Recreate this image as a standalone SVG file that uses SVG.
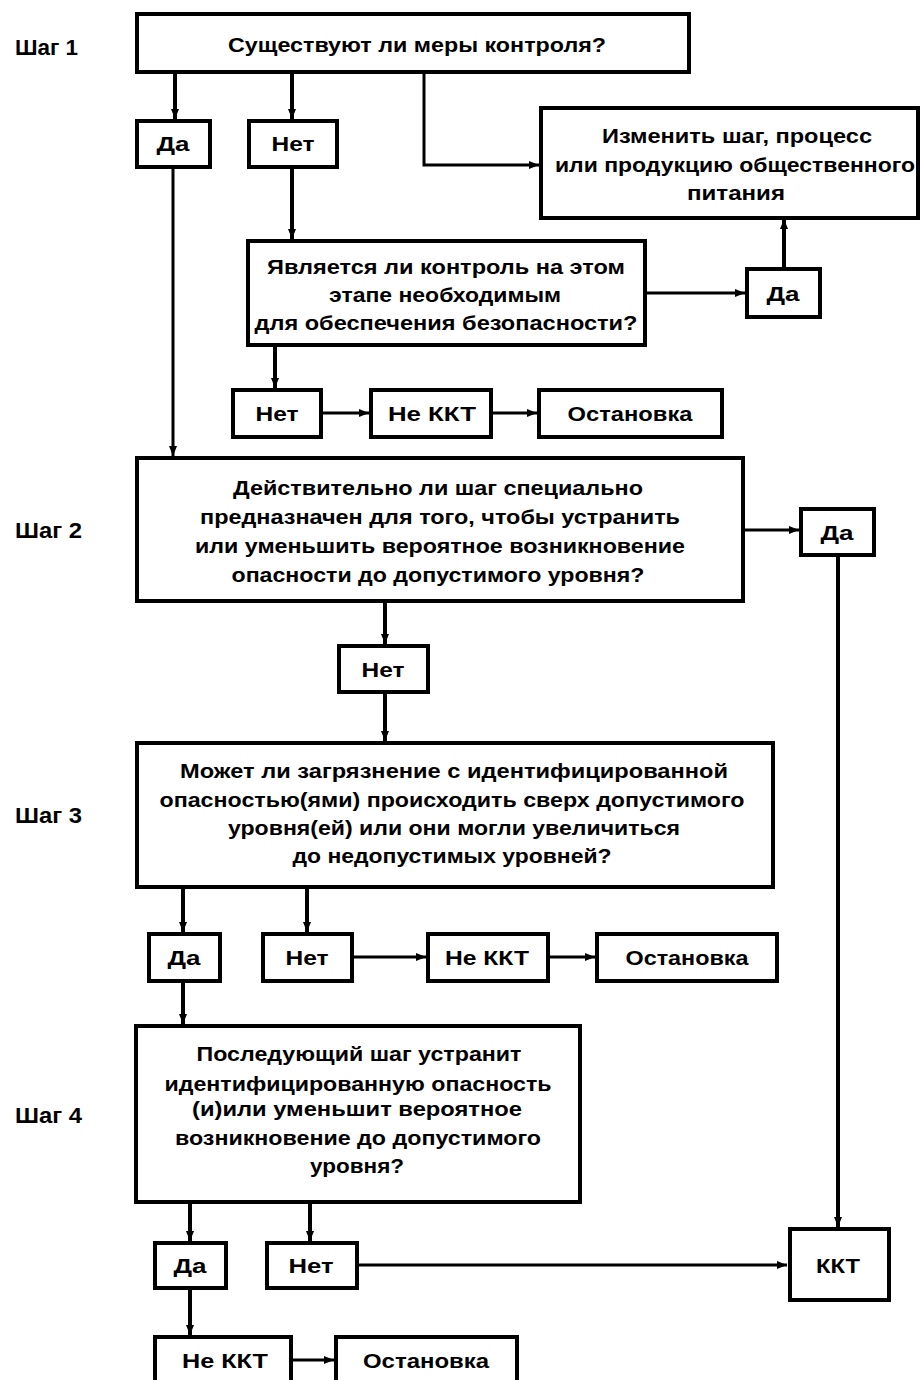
<svg xmlns="http://www.w3.org/2000/svg" width="920" height="1380" viewBox="0 0 920 1380">
<defs>
<marker id="ah" markerWidth="10" markerHeight="8" refX="10" refY="4" orient="auto" markerUnits="userSpaceOnUse">
<path d="M0,0 L10,4 L0,8 Z" fill="#000"/>
</marker>
<style>
.box{fill:#fff;stroke:#000;stroke-width:4}
.t{font-family:"Liberation Sans",Arial,sans-serif;font-weight:bold;font-size:21px;fill:#000;text-anchor:middle}
.lbl{font-family:"Liberation Sans",Arial,sans-serif;font-weight:bold;font-size:22px;fill:#000}
.c{fill:none;stroke:#000;stroke-width:3;marker-end:url(#ah)}
.ct{fill:none;stroke:#000;stroke-width:4;marker-end:url(#ah)}
</style>
</defs>
<rect width="920" height="1380" fill="#fff"/>
<g id="steps">
<text class="lbl" x="15" y="55" textLength="63" lengthAdjust="spacingAndGlyphs">Шаг 1</text>
<text class="lbl" x="15" y="538" textLength="67" lengthAdjust="spacingAndGlyphs">Шаг 2</text>
<text class="lbl" x="15" y="823" textLength="67" lengthAdjust="spacingAndGlyphs">Шаг 3</text>
<text class="lbl" x="15" y="1123" textLength="67" lengthAdjust="spacingAndGlyphs">Шаг 4</text>
</g>
<g id="connectors">
<line class="ct" x1="175" y1="72" x2="175" y2="119"/>
<line class="ct" x1="292" y1="72" x2="292" y2="119"/>
<path class="c" d="M424 72 V165 H539"/>
<line class="ct" x1="292" y1="167" x2="292" y2="239"/>
<path class="c" d="M645 293 H745"/>
<line class="ct" x1="784" y1="268" x2="784" y2="219"/>
<line class="ct" x1="275" y1="345" x2="275" y2="388"/>
<path class="c" d="M321 413 H369"/>
<path class="c" d="M491 413 H537"/>
<line class="c" x1="173" y1="167" x2="173" y2="456"/>
<path class="c" d="M743 530 H799"/>
<line class="ct" x1="838" y1="555" x2="838" y2="1227"/>
<line class="ct" x1="385" y1="601" x2="385" y2="644"/>
<line class="ct" x1="385" y1="692" x2="385" y2="741"/>
<line class="ct" x1="183" y1="887" x2="183" y2="932"/>
<line class="ct" x1="307" y1="887" x2="307" y2="932"/>
<path class="c" d="M352 957 H426"/>
<path class="c" d="M548 957 H595"/>
<line class="ct" x1="183" y1="981" x2="183" y2="1024"/>
<line class="ct" x1="190" y1="1203" x2="190" y2="1241"/>
<line class="ct" x1="310" y1="1203" x2="310" y2="1241"/>
<path class="c" d="M357 1265 H787"/>
<line class="ct" x1="190" y1="1288" x2="190" y2="1335"/>
<path class="c" d="M292 1360 H334"/>
</g>
<g id="n-q1">
<rect class="box" x="137" y="14" width="552" height="58"/>
<text class="t" x="417" y="52" textLength="378" lengthAdjust="spacingAndGlyphs">Существуют ли меры контроля?</text>
</g>
<g id="n-yes1">
<rect class="box" x="137" y="121" width="73" height="46"/>
<text class="t" x="173" y="151" textLength="33" lengthAdjust="spacingAndGlyphs">Да</text>
</g>
<g id="n-no1">
<rect class="box" x="249" y="121" width="88" height="46"/>
<text class="t" x="293" y="151" textLength="43" lengthAdjust="spacingAndGlyphs">Нет</text>
</g>
<g id="n-modify">
<rect class="box" x="541" y="108" width="377" height="110"/>
<text class="t" x="737" y="143" textLength="270" lengthAdjust="spacingAndGlyphs">Изменить шаг, процесс</text>
<text class="t" x="735" y="172" textLength="360" lengthAdjust="spacingAndGlyphs">или продукцию общественного</text>
<text class="t" x="736" y="200" textLength="98" lengthAdjust="spacingAndGlyphs">питания</text>
</g>
<g id="n-q1b">
<rect class="box" x="248" y="241" width="397" height="104"/>
<text class="t" x="446" y="274" textLength="358" lengthAdjust="spacingAndGlyphs">Является ли контроль на этом</text>
<text class="t" x="445" y="302" textLength="232" lengthAdjust="spacingAndGlyphs">этапе необходимым</text>
<text class="t" x="446" y="330" textLength="383" lengthAdjust="spacingAndGlyphs">для обеспечения безопасности?</text>
</g>
<g id="n-yes1b">
<rect class="box" x="747" y="269" width="73" height="48"/>
<text class="t" x="783" y="301" textLength="33" lengthAdjust="spacingAndGlyphs">Да</text>
</g>
<g id="n-no1b">
<rect class="box" x="233" y="390" width="88" height="47"/>
<text class="t" x="277" y="421" textLength="43" lengthAdjust="spacingAndGlyphs">Нет</text>
</g>
<g id="n-notccp1">
<rect class="box" x="371" y="390" width="120" height="47"/>
<text class="t" x="432" y="421" textLength="88" lengthAdjust="spacingAndGlyphs">Не ККТ</text>
</g>
<g id="n-stop1">
<rect class="box" x="539" y="390" width="183" height="47"/>
<text class="t" x="630" y="421" textLength="125" lengthAdjust="spacingAndGlyphs">Остановка</text>
</g>
<g id="n-q2">
<rect class="box" x="137" y="458" width="606" height="143"/>
<text class="t" x="438" y="495" textLength="410" lengthAdjust="spacingAndGlyphs">Действительно ли шаг специально</text>
<text class="t" x="440" y="524" textLength="480" lengthAdjust="spacingAndGlyphs">предназначен для того, чтобы устранить</text>
<text class="t" x="440" y="553" textLength="490" lengthAdjust="spacingAndGlyphs">или уменьшить вероятное возникновение</text>
<text class="t" x="438" y="582" textLength="413" lengthAdjust="spacingAndGlyphs">опасности до допустимого уровня?</text>
</g>
<g id="n-yes2">
<rect class="box" x="801" y="509" width="73" height="46"/>
<text class="t" x="837" y="540" textLength="33" lengthAdjust="spacingAndGlyphs">Да</text>
</g>
<g id="n-no2">
<rect class="box" x="339" y="646" width="89" height="46"/>
<text class="t" x="383" y="677" textLength="43" lengthAdjust="spacingAndGlyphs">Нет</text>
</g>
<g id="n-q3">
<rect class="box" x="137" y="743" width="636" height="144"/>
<text class="t" x="454" y="778" textLength="548" lengthAdjust="spacingAndGlyphs">Может ли загрязнение с идентифицированной</text>
<text class="t" x="452" y="807" textLength="585" lengthAdjust="spacingAndGlyphs">опасностью(ями) происходить сверх допустимого</text>
<text class="t" x="454" y="835" textLength="452" lengthAdjust="spacingAndGlyphs">уровня(ей) или они могли увеличиться</text>
<text class="t" x="452" y="863" textLength="319" lengthAdjust="spacingAndGlyphs">до недопустимых уровней?</text>
</g>
<g id="n-yes3">
<rect class="box" x="149" y="934" width="71" height="47"/>
<text class="t" x="184" y="965" textLength="33" lengthAdjust="spacingAndGlyphs">Да</text>
</g>
<g id="n-no3">
<rect class="box" x="263" y="934" width="89" height="47"/>
<text class="t" x="307" y="965" textLength="43" lengthAdjust="spacingAndGlyphs">Нет</text>
</g>
<g id="n-notccp3">
<rect class="box" x="428" y="934" width="120" height="47"/>
<text class="t" x="487" y="965" textLength="84" lengthAdjust="spacingAndGlyphs">Не ККТ</text>
</g>
<g id="n-stop3">
<rect class="box" x="597" y="934" width="180" height="47"/>
<text class="t" x="687" y="965" textLength="123" lengthAdjust="spacingAndGlyphs">Остановка</text>
</g>
<g id="n-q4">
<rect class="box" x="136" y="1026" width="444" height="176"/>
<text class="t" x="359" y="1061" textLength="325" lengthAdjust="spacingAndGlyphs">Последующий шаг устранит</text>
<text class="t" x="358" y="1091" textLength="387" lengthAdjust="spacingAndGlyphs">идентифицированную опасность</text>
<text class="t" x="357" y="1116" textLength="330" lengthAdjust="spacingAndGlyphs">(и)или уменьшит вероятное</text>
<text class="t" x="358" y="1145" textLength="366" lengthAdjust="spacingAndGlyphs">возникновение до допустимого</text>
<text class="t" x="357" y="1173" textLength="94" lengthAdjust="spacingAndGlyphs">уровня?</text>
</g>
<g id="n-yes4">
<rect class="box" x="155" y="1243" width="71" height="45"/>
<text class="t" x="190" y="1273" textLength="33" lengthAdjust="spacingAndGlyphs">Да</text>
</g>
<g id="n-no4">
<rect class="box" x="267" y="1243" width="90" height="45"/>
<text class="t" x="311" y="1273" textLength="45" lengthAdjust="spacingAndGlyphs">Нет</text>
</g>
<g id="n-ccp">
<rect class="box" x="790" y="1229" width="99" height="71"/>
<text class="t" x="838" y="1273" textLength="44" lengthAdjust="spacingAndGlyphs">ККТ</text>
</g>
<g id="n-notccp4">
<rect class="box" x="155" y="1337" width="136" height="46"/>
<text class="t" x="225" y="1368" textLength="86" lengthAdjust="spacingAndGlyphs">Не ККТ</text>
</g>
<g id="n-stop4">
<rect class="box" x="336" y="1337" width="181" height="46"/>
<text class="t" x="426" y="1368" textLength="126" lengthAdjust="spacingAndGlyphs">Остановка</text>
</g>
</svg>
